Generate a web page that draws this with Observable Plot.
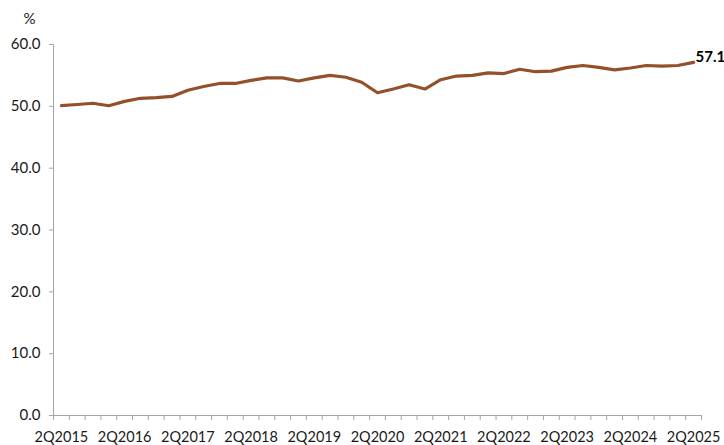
<!DOCTYPE html>
<html>
<head>
<meta charset="utf-8">
<script src="https://cdn.jsdelivr.net/npm/d3@7"></script>
<script src="https://cdn.jsdelivr.net/npm/@observablehq/plot@0.6"></script>
<style>
  html, body { margin: 0; padding: 0; background: #fff; }
  #chart { width: 724px; height: 445px; }
</style>
</head>
<body>
<div id="chart"></div>
<script>
// Quarterly series, 2Q2015 – 2Q2025 (%)
const quarters = [
  "2Q2015","3Q2015","4Q2015",
  "1Q2016","2Q2016","3Q2016","4Q2016",
  "1Q2017","2Q2017","3Q2017","4Q2017",
  "1Q2018","2Q2018","3Q2018","4Q2018",
  "1Q2019","2Q2019","3Q2019","4Q2019",
  "1Q2020","2Q2020","3Q2020","4Q2020",
  "1Q2021","2Q2021","3Q2021","4Q2021",
  "1Q2022","2Q2022","3Q2022","4Q2022",
  "1Q2023","2Q2023","3Q2023","4Q2023",
  "1Q2024","2Q2024","3Q2024","4Q2024",
  "1Q2025","2Q2025"
];

const values = [
  50.1, 50.3, 50.5,
  50.1, 50.8, 51.3, 51.4,
  51.6, 52.6, 53.2, 53.7,
  53.7, 54.2, 54.6, 54.6,
  54.1, 54.6, 55.0, 54.7,
  53.9, 52.2, 52.8, 53.5,
  52.8, 54.3, 54.9, 55.0,
  55.4, 55.3, 56.0, 55.6,
  55.7, 56.3, 56.6, 56.3,
  55.9, 56.2, 56.6, 56.5,
  56.6, 57.1
];

// Labelled categories on the x axis (every fourth quarter)
const tickLabels = [
  "2Q2015","2Q2016","2Q2017","2Q2018","2Q2019","2Q2020",
  "2Q2021","2Q2022","2Q2023","2Q2024","2Q2025"
];

const yTicks = [0, 10, 20, 30, 40, 50, 60];

const rows = quarters.map((q, i) => ({ quarter: q, i, value: values[i] }));
const last = rows[rows.length - 1];

const axisColor = "#a6a6a6";
const lineColor = "#93502a";
const textColor = "#1a1a1a";

const labelIndex = tickLabels.map(l => quarters.indexOf(l));
const boundaries = d3.range(quarters.length + 1).map(k => k - 0.5);

const chart = Plot.plot({
  width: 724,
  height: 445,
  marginLeft: 53,
  marginRight: 23,
  marginTop: 44,
  marginBottom: 30,
  style: { fontFamily: "Lato, 'Open Sans', sans-serif", background: "#fff", color: textColor },
  x: { type: "linear", domain: [-0.5, quarters.length - 0.5] },
  y: { domain: [0, 60] },
  marks: [
    // tick marks between categories (no text)
    Plot.axisX({
      ticks: boundaries,
      tickSize: 5,
      stroke: axisColor,
      fill: "none",
      label: null
    }),
    // category labels
    Plot.axisX({
      ticks: labelIndex,
      tickSize: 0,
      tickPadding: 16,
      tickFormat: i => quarters[i],
      fontSize: 14.5,
      fill: textColor,
      label: null
    }),
    Plot.axisY({
      ticks: yTicks,
      tickSize: 4,
      tickPadding: 9,
      tickFormat: d3.format(".1f"),
      fontSize: 15,
      stroke: axisColor,
      fill: textColor,
      label: null
    }),
    Plot.ruleY([0], { stroke: axisColor }),
    Plot.ruleX([-0.5], { stroke: axisColor }),
    Plot.text(["%"], {
      frameAnchor: "top-left",
      textAnchor: "middle",
      lineAnchor: "middle",
      dx: -24,
      dy: -25,
      fontSize: 15,
      fill: textColor
    }),
    Plot.line(rows, {
      x: "i",
      y: "value",
      stroke: lineColor,
      strokeWidth: 3.2,
      strokeLinejoin: "round",
      strokeLinecap: "round"
    }),
    Plot.text([last], {
      x: "i",
      y: "value",
      text: d => d.value.toFixed(1),
      textAnchor: "start",
      dx: 2,
      dy: -5,
      fontSize: 15,
      fontWeight: "bold",
      fill: "#000"
    })
  ]
});

document.getElementById("chart").appendChild(chart);
</script>
</body>
</html>
